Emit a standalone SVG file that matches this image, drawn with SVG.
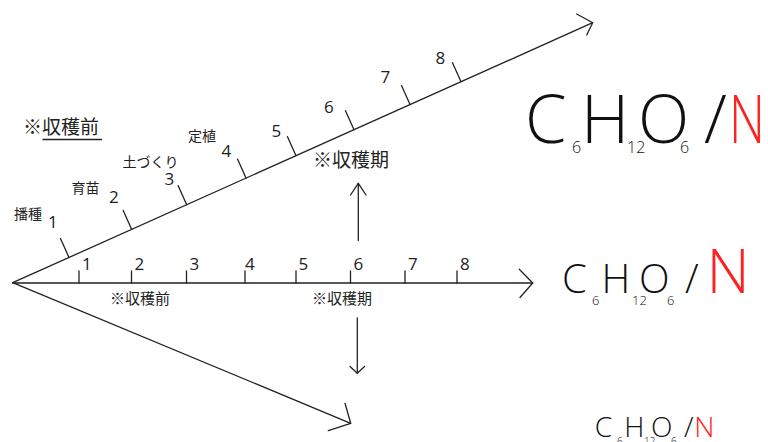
<svg xmlns="http://www.w3.org/2000/svg" width="768" height="442" viewBox="0 0 768 442">
<style>
.ax{stroke:#222;stroke-width:1.3;fill:none;stroke-linecap:round;stroke-linejoin:round}
.num{font-family:"Open Sans","Noto Sans",sans-serif;font-size:17px;fill:#222}
.jp{font-family:"Noto Sans CJK JP","Noto Sans",sans-serif;fill:#222}
.f{font-family:"Open Sans","Noto Sans",sans-serif;font-weight:300;fill:#111}
.red{fill:#ff2020}
</style>
<rect width="768" height="442" fill="#fff"/>
<g id="connectors">
  <line class="ax" x1="12.7" y1="283" x2="532.7" y2="283"/>
  <polyline class="ax" points="519.3,269.3 532.7,283 520,297.5"/>
  <path class="ax" d="M79,271V283M131.5,271V283M186.5,271V283M245,271V283M296,271V283M350.5,271V283M405,271V283M457,271V283"/>
  <line class="ax" x1="12.7" y1="282.7" x2="592.7" y2="22.7"/>
  <polyline class="ax" points="576.7,14 592.7,22.7 586.7,35"/>
  <path class="ax" d="M69,257.5l-8.5,-19M131.7,229.4l-8.5,-19M186.7,204.7l-8.5,-19M246,178.1l-8.5,-19M296,155.7l-8.5,-19M354,129.7l-8.5,-19M410,104.6l-8.5,-19M461,81.7l-8.5,-19"/>
  <line class="ax" x1="12.7" y1="282.7" x2="350.7" y2="423.3"/>
  <polyline class="ax" points="345,403.3 350.7,423.3 328.3,430.7"/>
  <line class="ax" x1="358.3" y1="183.3" x2="358.3" y2="240.5"/>
  <polyline class="ax" points="350.5,195 358.3,183.3 366,195"/>
  <line class="ax" x1="357.3" y1="318" x2="357.3" y2="373.3"/>
  <polyline class="ax" points="350,366.5 357.3,373.3 364.5,366.5"/>
</g>
<g id="horizontal-labels">
  <text class="num" x="82" y="270">1</text>
  <text class="num" x="134.5" y="270">2</text>
  <text class="num" x="189.5" y="270">3</text>
  <text class="num" x="245" y="270">4</text>
  <text class="num" x="298.5" y="270">5</text>
  <text class="num" x="353.5" y="270">6</text>
  <text class="num" x="408" y="270">7</text>
  <text class="num" x="460" y="270">8</text>
  <text class="jp" x="110" y="304" font-size="15">※収穫前</text>
  <text class="jp" x="312" y="304" font-size="15">※収穫期</text>
</g>
<g id="diagonal-labels">
  <text class="num" x="48" y="228">1</text>
  <text class="num" x="109" y="203">2</text>
  <text class="num" x="164.5" y="185">3</text>
  <text class="num" x="221.5" y="157">4</text>
  <text class="num" x="271.5" y="137">5</text>
  <text class="num" x="324" y="113">6</text>
  <text class="num" x="380.5" y="83">7</text>
  <text class="num" x="435.5" y="64">8</text>
  <text class="jp" x="14" y="219" font-size="14">播種</text>
  <text class="jp" x="71.5" y="193" font-size="14">育苗</text>
  <text class="jp" x="122.5" y="167" font-size="14">土づくり</text>
  <text class="jp" x="188" y="141" font-size="14">定植</text>
</g>
<g id="note-before">
  <text class="jp" x="23" y="134" font-size="19">※収穫前</text>
  <line x1="42.5" y1="139.5" x2="102" y2="139.5" stroke="#222" stroke-width="1.3"/>
</g>
<g id="note-period">
  <text class="jp" x="313" y="167" font-size="19">※収穫期</text>
</g>
<g id="formula-large">
  <text class="f" x="525" y="143" font-size="67">C</text>
  <text class="f" x="572" y="153" font-size="16">6</text>
  <text class="f" x="581" y="143" font-size="67">H</text>
  <text class="f" x="627" y="153" font-size="16">12</text>
  <text class="f" x="638" y="143" font-size="67">O</text>
  <text class="f" x="680" y="153" font-size="16">6</text>
  <text class="f" x="704" y="143" font-size="67">/</text>
  <text class="f red" x="729" y="143" font-size="67" textLength="36" lengthAdjust="spacingAndGlyphs">N</text>
</g>
<g id="formula-medium">
  <text class="f" x="562" y="293.3" font-size="40">C</text>
  <text class="f" x="592" y="305" font-size="13">6</text>
  <text class="f" x="601.5" y="293.3" font-size="40">H</text>
  <text class="f" x="632" y="305" font-size="13">12</text>
  <text class="f" x="639" y="293.3" font-size="40">O</text>
  <text class="f" x="667" y="305" font-size="13">6</text>
  <text class="f" x="685" y="293.3" font-size="40">/</text>
  <text class="f red" x="706.5" y="293.3" font-size="60">N</text>
</g>
<g id="formula-small">
  <text class="f" x="594.7" y="436.7" font-size="28">C</text>
  <text class="f" x="617" y="445" font-size="10">6</text>
  <text class="f" x="624.2" y="436.7" font-size="28">H</text>
  <text class="f" x="644" y="445" font-size="10">12</text>
  <text class="f" x="651" y="436.7" font-size="28">O</text>
  <text class="f" x="671" y="445" font-size="10">6</text>
  <text class="f" x="684" y="436.7" font-size="28">/</text>
  <text class="f red" x="694.2" y="436.7" font-size="28">N</text>
</g>
</svg>
